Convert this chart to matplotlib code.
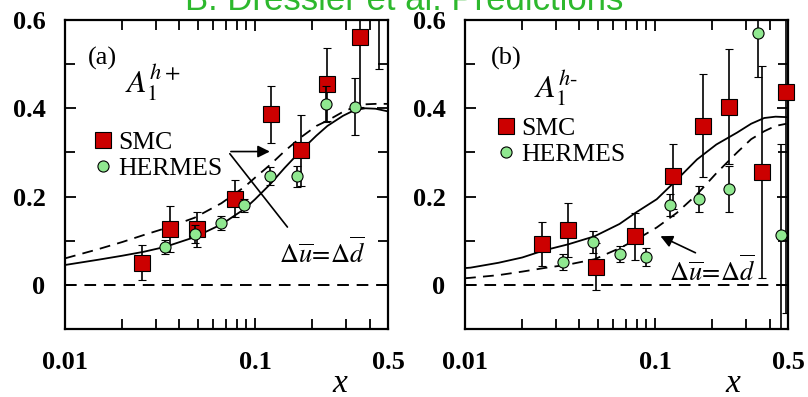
import numpy as np
import matplotlib
matplotlib.use("Agg")
import matplotlib.pyplot as plt
from matplotlib.lines import Line2D
from matplotlib.ticker import FixedLocator, NullFormatter, FixedFormatter

plt.rcParams['font.family'] = ['Liberation Serif', 'DejaVu Serif']
plt.rcParams['mathtext.fontset'] = 'stix'

# ---------------- data ----------------
# panel (a)  A1^{h+}
smc_a_x = [0.0255, 0.0357, 0.0497, 0.078, 0.121, 0.175, 0.24, 0.355, 0.45]
smc_a_y = [0.05, 0.126, 0.126, 0.195, 0.386, 0.305, 0.454, 0.562, 0.70]
smc_a_err = [0.04, 0.052, 0.04, 0.042, 0.065, 0.08, 0.083, 0.16, 0.21]

her_a_x = [0.0336, 0.048, 0.0665, 0.0876, 0.12, 0.167, 0.237, 0.334]
her_a_y = [0.086, 0.115, 0.14, 0.18, 0.246, 0.246, 0.41, 0.404]
her_a_err = [0.015, 0.02, 0.015, 0.015, 0.02, 0.024, 0.04, 0.065]

curve_a_x = [0.01, 0.015, 0.02, 0.026, 0.0336, 0.048, 0.0665, 0.088, 0.1, 0.12, 0.143, 0.175, 0.21, 0.24, 0.29, 0.334, 0.38, 0.43, 0.5]
solid_a_y = [0.045, 0.057, 0.066, 0.075, 0.086, 0.108, 0.137, 0.172, 0.194, 0.228, 0.265, 0.305, 0.338, 0.36, 0.383, 0.396, 0.40, 0.399, 0.393]
dashed_a_y = [0.06, 0.081, 0.097, 0.113, 0.128, 0.152, 0.185, 0.222, 0.243, 0.272, 0.303, 0.335, 0.36, 0.372, 0.392, 0.403, 0.409, 0.41, 0.41]

# panel (b)  A1^{h-}
smc_b_x = [0.0254, 0.0348, 0.049, 0.078, 0.124, 0.179, 0.245, 0.366, 0.49]
smc_b_y = [0.092, 0.124, 0.041, 0.11, 0.246, 0.361, 0.404, 0.255, 0.436]
smc_b_err = [0.05, 0.061, 0.053, 0.053, 0.074, 0.117, 0.131, 0.24, 0.5]

her_b_x = [0.0328, 0.047, 0.0655, 0.0896, 0.12, 0.17, 0.245, 0.348, 0.46]
her_b_y = [0.052, 0.097, 0.07, 0.063, 0.18, 0.194, 0.217, 0.571, 0.113]
her_b_err_lo = [0.018, 0.025, 0.018, 0.02, 0.025, 0.03, 0.052, 0.10, 0.25]
her_b_err_hi = [0.018, 0.025, 0.018, 0.02, 0.025, 0.03, 0.052, 0.10, 0.205]

curve_b_x = [0.01, 0.0107, 0.015, 0.02, 0.026, 0.035, 0.048, 0.065, 0.08, 0.102, 0.13, 0.166, 0.21, 0.27, 0.32, 0.375, 0.43, 0.49]
solid_b_y = [0.038, 0.039, 0.05, 0.062, 0.078, 0.092, 0.11, 0.138, 0.165, 0.194, 0.238, 0.284, 0.318, 0.345, 0.365, 0.378, 0.381, 0.38]
dashed_b_y = [0.015, 0.016, 0.022, 0.03, 0.038, 0.046, 0.058, 0.083, 0.103, 0.13, 0.163, 0.205, 0.253, 0.30, 0.33, 0.348, 0.36, 0.365]

xticks = [0.01, 0.1, 0.5]
xticklabels = ['0.01', '0.1', '0.5']
yticks = [0, 0.2, 0.4, 0.6]
yticklabels = ['0', '0.2', '0.4', '0.6']

# ---------------- figure ----------------
fig = plt.figure(figsize=(8.08, 3.97), dpi=100)
W, H = 808, 397
ax_a = fig.add_axes([65 / W, (H - 329) / H, 323 / W, 309 / H])
ax_b = fig.add_axes([465 / W, (H - 329) / H, 323 / W, 309 / H])

red = '#cc0000'
green = '#90e890'


def style_axes(ax, xlab_x):
    ax.set_xscale('log')
    ax.set_xlim(0.01, 0.5)
    ax.set_ylim(-0.1, 0.6)
    ax.xaxis.set_major_locator(FixedLocator(xticks))
    ax.xaxis.set_major_formatter(FixedFormatter(xticklabels))
    minors = [0.02, 0.03, 0.04, 0.05, 0.06, 0.07, 0.08, 0.09, 0.2, 0.3, 0.4]
    ax.xaxis.set_minor_locator(FixedLocator(minors))
    ax.xaxis.set_minor_formatter(NullFormatter())
    ax.yaxis.set_major_locator(FixedLocator(yticks))
    ax.yaxis.set_major_formatter(FixedFormatter(yticklabels))
    ax.yaxis.set_minor_locator(FixedLocator([-0.1, 0.1, 0.3, 0.5]))
    ax.tick_params(which='both', direction='in', top=True, right=True, width=1.3)
    ax.tick_params(which='major', length=8)
    ax.tick_params(which='minor', length=7)
    ax.tick_params(axis='x', which='major', pad=16)
    ax.tick_params(axis='y', which='major', pad=14)
    for lab in ax.get_xticklabels() + ax.get_yticklabels():
        lab.set_fontfamily('Liberation Serif')
        lab.set_fontweight('bold')
        lab.set_fontsize(19)
    for s in ax.spines.values():
        s.set_linewidth(1.6)
    ax.axhline(0, color='black', lw=1.4, ls=(0, (6, 4)), zorder=1)
    ax.text(xlab_x, -0.223, 'x', fontsize=24, fontstyle='italic', ha='center', va='center',
            clip_on=False)


def draw_points(ax, sx, sy, serr, hx, hy, herr):
    ax.errorbar(hx, hy, yerr=herr, fmt='o', ms=8, mfc=green, mec='black', mew=0.8,
                ecolor='black', elinewidth=1.2, capsize=3, capthick=1.2, zorder=4)
    cont = ax.errorbar(sx, sy, yerr=serr, fmt='s', ms=11, mfc=red, mec='black', mew=0.8,
                       ecolor='black', elinewidth=1.2, capsize=3, capthick=1.2, zorder=3)
    return cont


def legend(ax, bx, by, spacing):
    h = [Line2D([], [], ls='none', marker='s', ms=11, mfc=red, mec='black', mew=0.8),
         Line2D([], [], ls='none', marker='o', ms=8, mfc=green, mec='black', mew=0.8)]
    ax.legend(h, ['SMC', 'HERMES'], loc='center left', bbox_to_anchor=(bx, by),
              frameon=False, handlelength=1.0, handletextpad=0.1, borderpad=0,
              borderaxespad=0, labelspacing=spacing,
              prop=dict(family='Liberation Serif', size=18.5))


# panel (a)
style_axes(ax_a, 0.28)
ax_a.plot(curve_a_x, solid_a_y, color='black', lw=1.3, zorder=2)
ax_a.plot(curve_a_x, dashed_a_y, color='black', lw=1.3, ls=(0, (6, 4)), zorder=2)
draw_points(ax_a, smc_a_x, smc_a_y, smc_a_err, her_a_x, her_a_y, her_a_err)
legend(ax_a, 0.077, 0.561, 0.1)
ax_a.text(0.071, 0.877, '(a)', transform=ax_a.transAxes, fontsize=19, ha='left', va='center')
ax_a.text(0.186, 0.764, r'$A_1^{h+}$', transform=ax_a.transAxes, fontsize=23, ha='left', va='baseline')
ax_a.annotate('', xy=(0.0721, 0.302), xytext=(0.151, 0.126),
              arrowprops=dict(arrowstyle='-', color='black', lw=1.2))
ax_a.annotate('', xy=(0.1236, 0.302), xytext=(0.0721, 0.302),
              arrowprops=dict(arrowstyle='-|>', color='black', lw=1.2, mutation_scale=18))
ax_a.text(0.225, 0.074, r'$\Delta\overline{u}\!=\!\Delta\overline{d}$', fontsize=19,
          ha='center', va='center', zorder=6)

# panel (b)
style_axes(ax_b, 0.255)
ax_b.plot(curve_b_x, solid_b_y, color='black', lw=1.3, zorder=2)
ax_b.plot(curve_b_x, dashed_b_y, color='black', lw=1.3, ls=(0, (6, 4)), zorder=2)
cont_b = draw_points(ax_b, smc_b_x, smc_b_y, smc_b_err, her_b_x, her_b_y,
                     [her_b_err_lo, her_b_err_hi])
cont_b.lines[0].set_clip_on(False)  # let the edge marker show fully
legend(ax_b, 0.087, 0.607, 0.15)
ax_b.text(0.08, 0.877, '(b)', transform=ax_b.transAxes, fontsize=19, ha='left', va='center')
ax_b.text(0.214, 0.75, r'$A_1^{h\text{-}}$', transform=ax_b.transAxes, fontsize=23, ha='left', va='baseline')
ax_b.annotate('', xy=(0.1035, 0.113), xytext=(0.168, 0.07),
              arrowprops=dict(arrowstyle='-|>', color='black', lw=1.2, mutation_scale=18))
ax_b.text(0.2, 0.032, r'$\Delta\overline{u}\!=\!\Delta\overline{d}$', fontsize=19,
          ha='center', va='center', zorder=6)

fig.text(0.5, 1 - 10.5 / H, 'B. Dressler et al. Predictions', color='#2db82d', fontsize=25,
         family='Liberation Sans', ha='center', va='baseline')

fig.savefig('out.png', dpi=100)
